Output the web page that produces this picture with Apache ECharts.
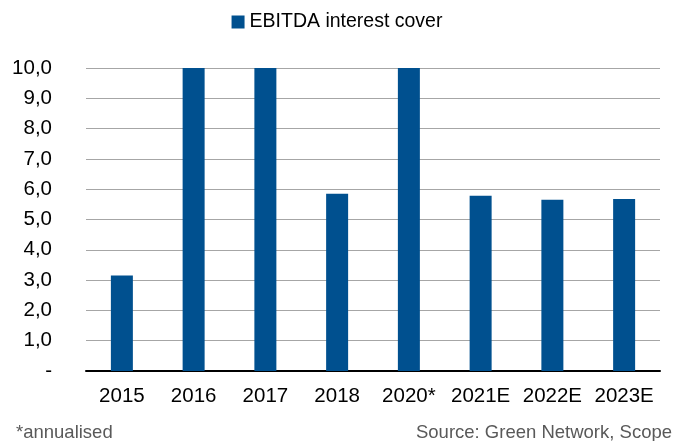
<!DOCTYPE html>
<html><head><meta charset="utf-8">
<script src="https://cdn.jsdelivr.net/npm/echarts@6/dist/echarts.min.js"></script>
<style>html,body{margin:0;padding:0;background:#fff}#c{width:674px;height:441px}</style>
</head><body><div id="c"></div>
<script>
const categories = ['2015','2016','2017','2018','2020*','2021E','2022E','2023E'];
const coverValues = [3.15, 10.0, 10.0, 5.85, 10.0, 5.78, 5.65, 5.68];
const seriesName = 'EBITDA interest cover';
const footLeft = '*annualised';
const footRight = 'Source: Green Network, Scope';

const chart = echarts.init(document.getElementById('c'));
const font = 'Liberation Sans, Arial, sans-serif';
chart.setOption({
  animation: false,
  textStyle: {fontFamily: font},
  legend: {
    top: 7, left: 'center', itemWidth: 13, itemHeight: 13, itemGap: 5,
    icon: 'rect',
    textStyle: {fontSize: 19.5, color: '#000', fontFamily: font},
    data: [seriesName]
  },
  grid: {left: 86, right: 14, top: 68, bottom: 70},
  xAxis: {
    type: 'category', data: categories,
    axisLine: {lineStyle: {color: '#000', width: 2}},
    axisTick: {show: false},
    axisLabel: {fontSize: 20.5, color: '#000', margin: 15, interval: 0, hideOverlap: false, fontFamily: font}
  },
  yAxis: {
    type: 'value', min: 0, max: 10, interval: 1,
    axisLine: {show: false}, axisTick: {show: false},
    splitLine: {lineStyle: {color: '#A6A6A6', width: 1}},
    axisLabel: {
      fontSize: 20.5, color: '#000', margin: 34, fontFamily: font,
      formatter: v => v === 0 ? '-' : v.toFixed(1).replace('.', ',')
    }
  },
  graphic: [
    {type: 'text', left: 16, top: 423, style: {text: footLeft, fontSize: 18.5, fill: '#595959', fontFamily: font}},
    {type: 'text', right: 2, top: 423, style: {text: footRight, fontSize: 18.5, fill: '#595959', fontFamily: font}}
  ],
  series: [{
    name: seriesName, type: 'bar', data: coverValues,
    barWidth: 22,
    itemStyle: {color: '#00508F'}
  }]
});
</script></body></html>
